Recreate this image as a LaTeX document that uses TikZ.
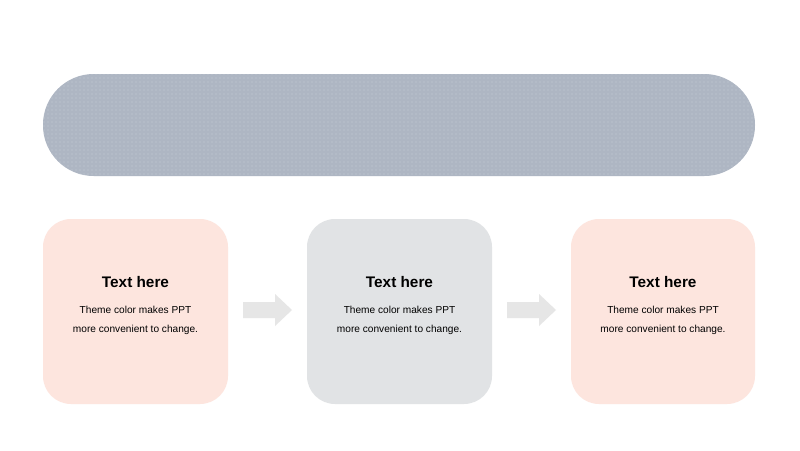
\documentclass[tikz,border=0pt]{standalone}
\usepackage{fontspec}
\setmainfont{Liberation Sans}
\usepackage{tikz}
\usetikzlibrary{patterns, positioning, calc}
\usepackage{xcolor}
\definecolor{bannergray}{HTML}{AEB6C3}
\definecolor{dotgray}{HTML}{C6CCD5}
\definecolor{softpink}{HTML}{FDE5DE}
\definecolor{softgray}{HTML}{E1E3E5}
\definecolor{arrowgray}{HTML}{E6E6E6}

\begin{document}
\begin{tikzpicture}[x=0.75pt, y=-0.75pt,
    card/.style={rounded corners=21pt},
    title/.style={font=\fontsize{11.5}{13}\selectfont\bfseries, text=black},
    body/.style={font=\fontsize{7.6}{14.3}\selectfont, align=center, text=black}]
    % Canvas
    \useasboundingbox (0, 0) rectangle (800, 450);
    \fill[white] (0, 0) rectangle (800, 450);

    % Banner
    \fill[bannergray, rounded corners=38pt] (43, 74) rectangle (755, 176);
    \fill[pattern=dots, pattern color=dotgray, rounded corners=38pt] (43, 74) rectangle (755, 176);

    % Cards
    \fill[card, softpink] (43, 219) rectangle (228, 404);
    \fill[card, softgray] (307, 219) rectangle (492, 404);
    \fill[card, softpink] (571, 219) rectangle (755, 404);

    % Card texts
    \foreach \x/\n in {135.5/a, 399.5/b, 663/c} {
        \node[title] (t\n) at (\x, 282.5) {Text here};
        \node[body] (d\n) at (\x, 320.5) {Theme color makes PPT\\more convenient to change.};
    }

    % Arrows
    \foreach \x in {243, 507} {
        \fill[arrowgray] (\x, 302) -- (\x+32, 302) -- (\x+32, 294) -- (\x+49, 310)
            -- (\x+32, 326) -- (\x+32, 318) -- (\x, 318) -- cycle;
    }
\end{tikzpicture}
\end{document}
